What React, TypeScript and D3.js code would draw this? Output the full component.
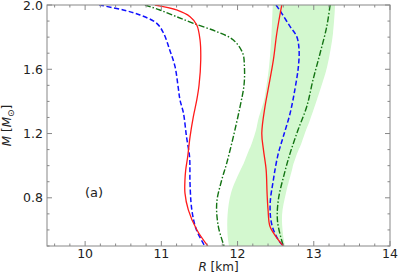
import React from "react";
import * as d3 from "d3";

// [R (km), M (Msun)]
const redLeft: [number, number][] = [
  [10.915, 2.0], [11.2, 1.969], [11.377, 1.927], [11.465, 1.876], [11.508, 1.782],
  [11.517, 1.658], [11.495, 1.502], [11.465, 1.409], [11.42, 1.305], [11.377, 1.181],
  [11.346, 1.057], [11.32, 0.974], [11.31, 0.912], [11.31, 0.829], [11.354, 0.725],
  [11.465, 0.601], [11.61, 0.5],
];
const blueLeft: [number, number][] = [
  [10.186, 2.0], [10.5, 1.969], [10.72, 1.938], [10.94, 1.886], [11.03, 1.824],
  [11.11, 1.72], [11.18, 1.616], [11.22, 1.492], [11.245, 1.409], [11.29, 1.328],
  [11.33, 1.181], [11.37, 1.057], [11.375, 0.974], [11.375, 0.912], [11.4, 0.725],
  [11.46, 0.601], [11.57, 0.5],
];
const greenLeft: [number, number][] = [
  [10.785, 2.0], [10.98, 1.969], [11.2, 1.927], [11.42, 1.886], [11.727, 1.834],
  [11.945, 1.782], [12.068, 1.7], [12.09, 1.616], [12.085, 1.502], [12.033, 1.368],
  [11.945, 1.181], [11.858, 1.016], [11.793, 0.912], [11.727, 0.769], [11.748, 0.621],
  [11.823, 0.5],
];
const redRight: [number, number][] = [
  [12.58, 2.0], [12.515, 1.824], [12.47, 1.658], [12.404, 1.482], [12.36, 1.368],
  [12.318, 1.202], [12.34, 1.098], [12.375, 0.974], [12.387, 0.831], [12.4, 0.725],
  [12.426, 0.621], [12.535, 0.538], [12.6, 0.5],
];
const blueRight: [number, number][] = [
  [12.505, 2.0], [12.58, 1.948], [12.69, 1.865], [12.777, 1.803], [12.807, 1.72],
  [12.798, 1.616], [12.755, 1.482], [12.69, 1.327], [12.6, 1.181], [12.53, 1.067],
  [12.47, 0.912], [12.427, 0.756], [12.45, 0.632], [12.535, 0.538], [12.6, 0.5],
];
const greenRight: [number, number][] = [
  [13.214, 2.0], [13.17, 1.865], [13.083, 1.7], [12.99, 1.534], [12.908, 1.368],
  [12.794, 1.223], [12.69, 1.078], [12.61, 0.943], [12.535, 0.787], [12.525, 0.65],
  [12.6, 0.5],
];
// band: mass, lower radius, upper radius
const bandM = [2.0, 1.826, 1.616, 1.471, 1.409, 1.285, 1.223, 1.117, 1.098, 1.005, 0.974, 0.831, 0.694, 0.57, 0.5];
const bandLow = [12.462, 12.446, 12.413, 12.37, 12.348, 12.27, 12.243, 12.17, 12.15, 12.072, 12.04, 11.915, 11.869, 11.869, 11.888];
const bandHigh = [13.28, 13.253, 13.175, 13.083, 13.04, 12.95, 12.9, 12.82, 12.8, 12.73, 12.715, 12.636, 12.584, 12.597, 12.623];

const xMajor = [10, 11, 12, 13, 14];
const yMajor = [0.8, 1.2, 1.6, 2.0];

export default function App() {
  const W = 399, H = 274;
  const L = 47, R = 390, T = 5, B = 246;
  const x = d3.scaleLinear().domain([9.5, 14]).range([L, R]);
  const y = d3.scaleLinear().domain([0.5, 2.0]).range([B, T]);
  const line = d3.line<[number, number]>().x(d => x(d[0])).y(d => y(d[1])).curve(d3.curveCatmullRom.alpha(0.5));
  const band = d3.area<number>()
    .y(i => y(bandM[i]))
    .x0(i => x(bandLow[i]))
    .x1(i => x(bandHigh[i]))
    .curve(d3.curveCatmullRom.alpha(0.5));
  const idx = bandM.map((_, i) => i);

  const xMinor = d3.range(9.6, 14.0001, 0.2).filter(v => !xMajor.some(m => Math.abs(m - v) < 1e-6));
  const yMinor = d3.range(0.5, 2.0001, 0.1).filter(v => !yMajor.some(m => Math.abs(m - v) < 1e-6));
  const axisCol = "#888";
  const font = "DejaVu Sans, sans-serif";
  const green = "#137313";

  return (
    <svg width={W} height={H} style={{ position: "absolute", left: 0, top: 0 }}>
      <defs>
        <clipPath id="plot"><rect x={L} y={T} width={R - L} height={B - T} /></clipPath>
      </defs>
      <rect x={0} y={0} width={W} height={H} fill="white" />
      <g clipPath="url(#plot)">
        <path d={band(idx) || ""} fill="#d3f8cf" stroke="none" />
        <path d={line(greenLeft) || ""} fill="none" stroke={green} strokeWidth={1.4} strokeDasharray="6,2,1.5,2" />
        <path d={line(greenRight) || ""} fill="none" stroke={green} strokeWidth={1.4} strokeDasharray="6,2,1.5,2" />
        <path d={line(blueLeft) || ""} fill="none" stroke="#1010ff" strokeWidth={1.5} strokeDasharray="5,2.5" />
        <path d={line(blueRight) || ""} fill="none" stroke="#1010ff" strokeWidth={1.5} strokeDasharray="5,2.5" />
        <path d={line(redLeft) || ""} fill="none" stroke="#ff1a1a" strokeWidth={1.3} />
        <path d={line(redRight) || ""} fill="none" stroke="#ff1a1a" strokeWidth={1.3} />
      </g>
      <g stroke={axisCol} strokeWidth={1}>
        {xMajor.map(v => (
          <g key={"xM" + v}>
            <line x1={x(v)} x2={x(v)} y1={B} y2={B - 5} />
            <line x1={x(v)} x2={x(v)} y1={T} y2={T + 5} />
          </g>
        ))}
        {xMinor.map(v => (
          <g key={"xm" + v}>
            <line x1={x(v)} x2={x(v)} y1={B} y2={B - 2.5} />
            <line x1={x(v)} x2={x(v)} y1={T} y2={T + 2.5} />
          </g>
        ))}
        {yMajor.map(v => (
          <g key={"yM" + v}>
            <line x1={L} x2={L + 5} y1={y(v)} y2={y(v)} />
            <line x1={R} x2={R - 5} y1={y(v)} y2={y(v)} />
          </g>
        ))}
        {yMinor.map(v => (
          <g key={"ym" + v}>
            <line x1={L} x2={L + 2.5} y1={y(v)} y2={y(v)} />
            <line x1={R} x2={R - 2.5} y1={y(v)} y2={y(v)} />
          </g>
        ))}
      </g>
      <rect x={L} y={T} width={R - L} height={B - T} fill="none" stroke={axisCol} strokeWidth={1} />
      <g fontFamily={font} fontSize={12.5} fill="#222">
        {xMajor.map(v => (
          <text key={"xl" + v} x={x(v)} y={B + 12} textAnchor="middle">{v}</text>
        ))}
        {yMajor.map(v => (
          <text key={"yl" + v} x={L - 4} y={y(v) + 4.5} textAnchor="end">{v.toFixed(1)}</text>
        ))}
        <text x={(L + R) / 2} y={271} textAnchor="middle" fontSize={12}>
          <tspan fontStyle="italic">R</tspan> [km]
        </text>
        <text transform={`translate(10.5,${(T + B) / 2}) rotate(-90)`} textAnchor="middle" fontSize={12}>
          <tspan fontStyle="italic">M</tspan> [<tspan fontStyle="italic">M</tspan><tspan fontSize={9} dy={3}>⊙</tspan><tspan dy={-3}>]</tspan>
        </text>
        <text x={94} y={197} textAnchor="middle" fontSize={13}>(a)</text>
      </g>
    </svg>
  );
}
